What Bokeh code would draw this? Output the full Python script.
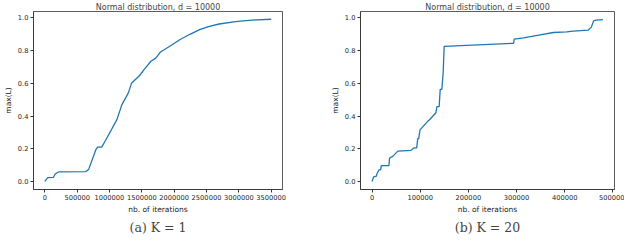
from bokeh.plotting import figure
from bokeh.layouts import row
from bokeh.models import Range1d, FixedTicker, BasicTickFormatter, Title, PrintfTickFormatter
from bokeh.embed import file_html
from bokeh.resources import INLINE

# Panel (a): K = 1
iters_a = [0, 45000, 135000, 160000, 210000, 637000, 680000, 790000, 815000, 880000, 940000,
           1115000, 1190000, 1290000, 1340000, 1466000, 1540000, 1640000, 1716000, 1790000,
           1943000, 2093000, 2244000, 2394000, 2545000, 2696000, 2947000, 3198000, 3500000]
maxl_a = [0.0, 0.023, 0.025, 0.045, 0.058, 0.06, 0.075, 0.195, 0.21, 0.21, 0.252,
          0.378, 0.468, 0.54, 0.60, 0.648, 0.687, 0.735, 0.754, 0.792,
          0.83, 0.868, 0.90, 0.929, 0.948, 0.963, 0.977, 0.987, 0.992]

# Panel (b): K = 20
iters_b = [0, 3400, 9000, 10300, 14400, 17900, 19200, 35000, 36400, 43000, 53500, 81000,
           86500, 92700, 94800, 96800, 99600, 115000, 118800, 132600, 134600, 139400,
           141500, 144900, 147700, 149700, 294000, 295000, 314600, 349000, 376600, 404000,
           417600, 448500, 455300, 460000, 465600, 479400]
maxl_b = [0.0, 0.028, 0.033, 0.048, 0.071, 0.071, 0.096, 0.096, 0.143, 0.153, 0.185, 0.19,
          0.205, 0.205, 0.262, 0.262, 0.315, 0.366, 0.376, 0.42, 0.458, 0.458,
          0.563, 0.563, 0.668, 0.826, 0.845, 0.87, 0.878, 0.897, 0.911, 0.915,
          0.92, 0.925, 0.944, 0.982, 0.987, 0.99]

yticks = [0.0, 0.2, 0.4, 0.6, 0.8, 1.0]
xticks_a = [0, 500000, 1000000, 1500000, 2000000, 2500000, 3000000, 3500000]
xticks_b = [0, 100000, 200000, 300000, 400000, 500000]

title_text = "Normal distribution, d = 10000"
FONT = "DejaVu Sans"


def make_panel(xs, ys, xticks, xr, caption, bl, br):
    p = figure(width=312, height=236, output_backend="svg", toolbar_location=None,
               x_range=Range1d(*xr), y_range=Range1d(-0.0495, 1.0395),
               min_border_left=bl, min_border_right=br, min_border_top=0, min_border_bottom=0)
    p.title.text = title_text
    p.title.text_font = FONT
    p.title.text_font_size = "8px"
    p.title.text_font_style = "normal"
    p.title.align = "center"
    p.title.standoff = 0
    p.line(xs, ys, line_color="#1f77b4", line_width=1.3)
    p.xgrid.visible = False
    p.ygrid.visible = False
    p.outline_line_color = "#333333"
    p.outline_line_width = 0.8
    for ax in (p.xaxis[0], p.yaxis[0]):
        ax.axis_line_color = "#333333"
        ax.axis_line_width = 0.8
        ax.major_tick_line_color = "#333333"
        ax.major_tick_in = 0
        ax.major_tick_out = 3
        ax.minor_tick_line_color = None
        ax.major_label_text_font = FONT
        ax.major_label_text_font_size = "6.7px"
        ax.major_label_text_color = "#222222"
        ax.axis_label_text_font = FONT
        ax.axis_label_text_font_size = "7.5px"
        ax.axis_label_text_font_style = "normal"
        ax.axis_label_text_color = "#222222"
        ax.major_label_standoff = 2
        ax.axis_label_standoff = 2
    p.xaxis.ticker = FixedTicker(ticks=xticks)
    p.xaxis.formatter = BasicTickFormatter(use_scientific=False)
    p.yaxis.ticker = FixedTicker(ticks=yticks)
    p.yaxis.formatter = PrintfTickFormatter(format="%.1f")
    p.xaxis.axis_label = "nb. of iterations"
    p.yaxis.axis_label = "max(L)"
    cap = Title(text=caption, align="center", text_font="DejaVu Serif",
                text_font_size="12.5px", text_font_style="normal", standoff=3)
    p.add_layout(cap, "below")
    return p


pa = make_panel(iters_a, maxl_a, xticks_a, (-175000, 3675000), "(a) K = 1", 20, 30)
pb = make_panel(iters_b, maxl_b, xticks_b, (-24000, 503400), "(b) K = 20", 48, 10)

layout = row(pa, pb, spacing=0)
open("out.html", "w").write(file_html(layout, INLINE))
